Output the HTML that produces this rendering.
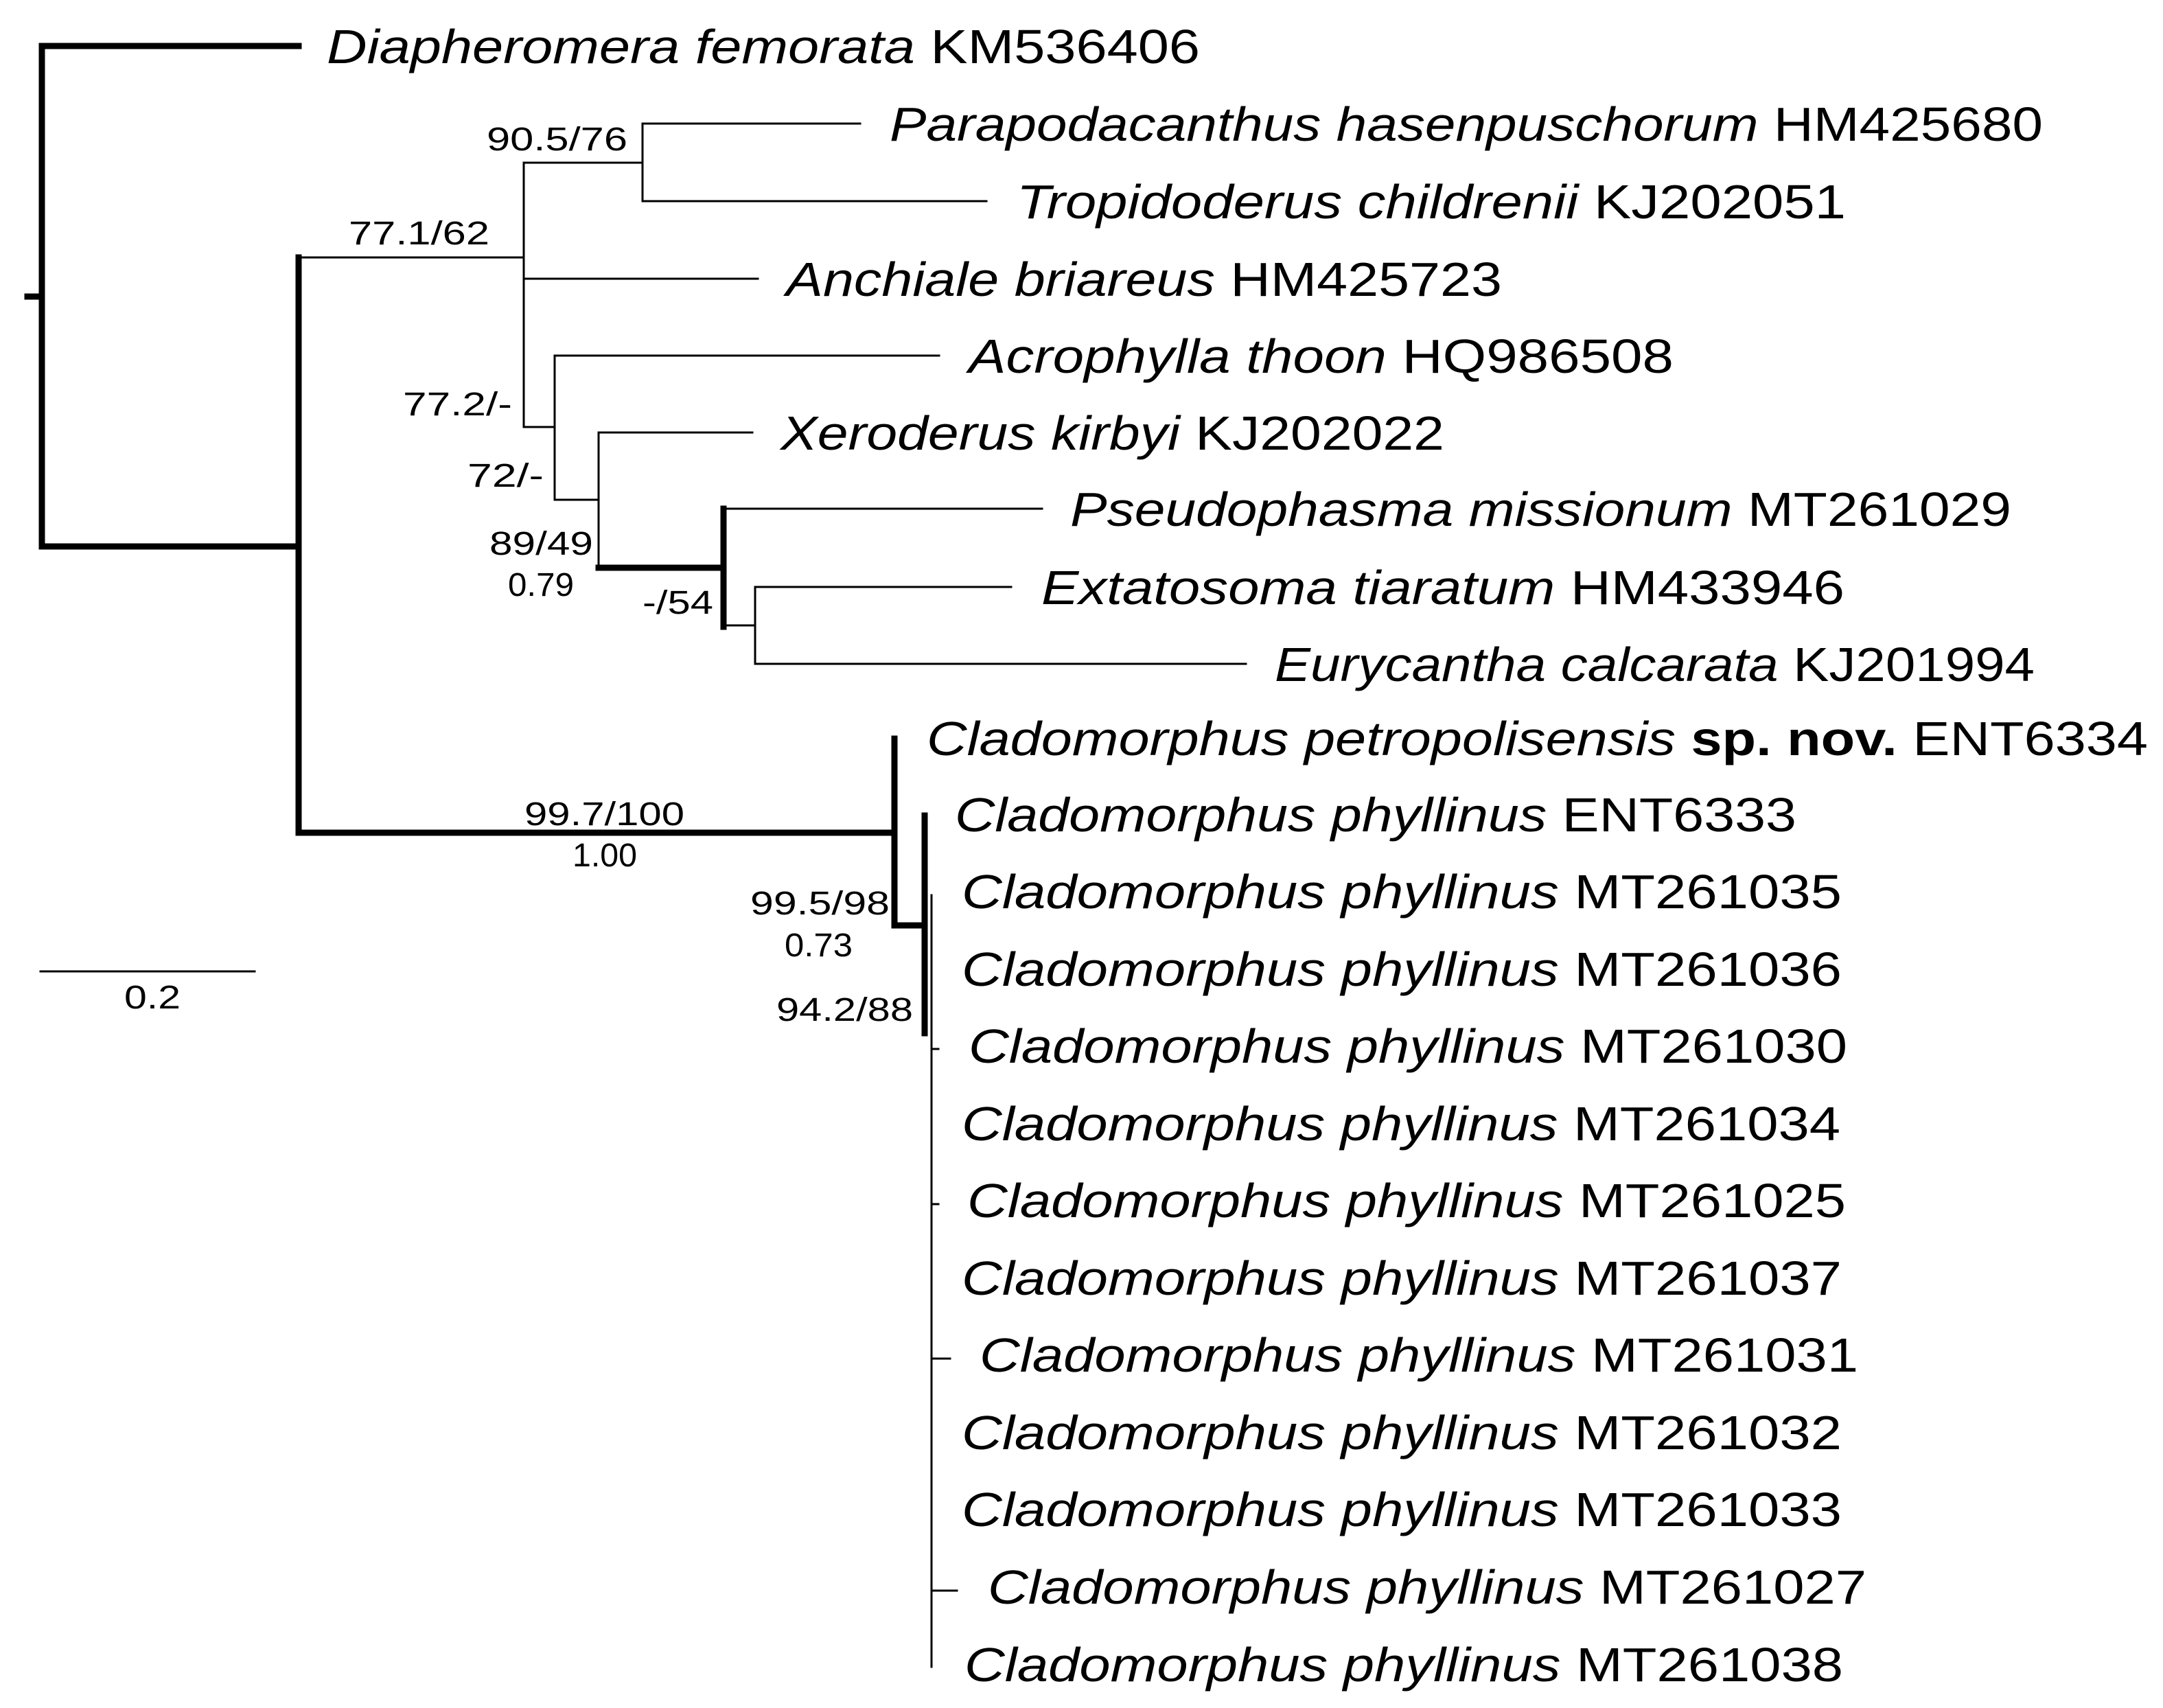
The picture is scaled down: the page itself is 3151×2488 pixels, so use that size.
<!DOCTYPE html>
<html><head><meta charset="utf-8"><style>html,body{margin:0;padding:0;background:#fff}svg{display:block}</style></head>
<body>
<svg width="3151" height="2488" viewBox="0 0 3151 2488" xmlns="http://www.w3.org/2000/svg">
<g stroke="#000" fill="none" stroke-linecap="square">
<!-- thick -->
<g stroke-width="9">
<line x1="61" y1="67" x2="61" y2="796"/>
<line x1="61" y1="67" x2="435" y2="67"/>
<line x1="61" y1="796" x2="435" y2="796"/>
<line x1="435" y1="375" x2="435" y2="1213"/>
<line x1="435" y1="1213" x2="1303" y2="1213"/>
<line x1="1303" y1="1076" x2="1303" y2="1348"/>
<line x1="1303" y1="1348" x2="1347" y2="1348"/>
<line x1="1347" y1="1188" x2="1347" y2="1505"/>
<line x1="872" y1="827" x2="1054" y2="827"/>
<line x1="1054" y1="741" x2="1054" y2="913"/>
<line x1="40" y1="432" x2="61" y2="432"/>
</g>
<g stroke-width="3">
<line x1="435" y1="375" x2="763" y2="375"/>
<line x1="763" y1="237" x2="763" y2="622"/>
<line x1="763" y1="237" x2="936" y2="237"/>
<line x1="936" y1="180" x2="936" y2="293"/>
<line x1="936" y1="180" x2="1253" y2="180"/>
<line x1="936" y1="293" x2="1437" y2="293"/>
<line x1="763" y1="406" x2="1104" y2="406"/>
<line x1="763" y1="622" x2="808" y2="622"/>
<line x1="808" y1="518" x2="808" y2="728"/>
<line x1="808" y1="518" x2="1368" y2="518"/>
<line x1="808" y1="728" x2="872" y2="728"/>
<line x1="872" y1="630" x2="872" y2="827"/>
<line x1="872" y1="630" x2="1096" y2="630"/>
<line x1="1054" y1="741" x2="1518" y2="741"/>
<line x1="1054" y1="911" x2="1100" y2="911"/>
<line x1="1100" y1="855" x2="1100" y2="967"/>
<line x1="1100" y1="855" x2="1473" y2="855"/>
<line x1="1100" y1="967" x2="1815" y2="967"/>
<line x1="1357" y1="1304" x2="1357" y2="2428"/>
<line x1="1357" y1="1528" x2="1367" y2="1528"/>
<line x1="1357" y1="1754" x2="1367" y2="1754"/>
<line x1="1357" y1="1979" x2="1384" y2="1979"/>
<line x1="1357" y1="2317" x2="1394" y2="2317"/>
<line x1="59" y1="1415" x2="371" y2="1415"/>
</g>
</g>
<g font-family="Liberation Sans, sans-serif" font-size="70" fill="#000" lengthAdjust="spacingAndGlyphs">
<text x="476" y="92" textLength="1272" lengthAdjust="spacingAndGlyphs"><tspan font-style="italic">Diapheromera femorata</tspan> KM536406</text>
<text x="1296" y="205" textLength="1680" lengthAdjust="spacingAndGlyphs"><tspan font-style="italic">Parapodacanthus hasenpuschorum</tspan> HM425680</text>
<text x="1481" y="318" textLength="1208" lengthAdjust="spacingAndGlyphs"><tspan font-style="italic">Tropidoderus childrenii</tspan> KJ202051</text>
<text x="1145" y="431" textLength="1043" lengthAdjust="spacingAndGlyphs"><tspan font-style="italic">Anchiale briareus</tspan> HM425723</text>
<text x="1411" y="543" textLength="1027" lengthAdjust="spacingAndGlyphs"><tspan font-style="italic">Acrophylla thoon</tspan> HQ986508</text>
<text x="1137" y="655" textLength="967" lengthAdjust="spacingAndGlyphs"><tspan font-style="italic">Xeroderus kirbyi</tspan> KJ202022</text>
<text x="1559" y="766" textLength="1371" lengthAdjust="spacingAndGlyphs"><tspan font-style="italic">Pseudophasma missionum</tspan> MT261029</text>
<text x="1517" y="880" textLength="1170" lengthAdjust="spacingAndGlyphs"><tspan font-style="italic">Extatosoma tiaratum</tspan> HM433946</text>
<text x="1857" y="992" textLength="1107" lengthAdjust="spacingAndGlyphs"><tspan font-style="italic">Eurycantha calcarata</tspan> KJ201994</text>
<text x="1350" y="1100" textLength="1779" lengthAdjust="spacingAndGlyphs"><tspan font-style="italic">Cladomorphus petropolisensis</tspan> <tspan font-weight="bold">sp. nov.</tspan> ENT6334</text>
<text x="1391" y="1211" textLength="1226" lengthAdjust="spacingAndGlyphs"><tspan font-style="italic">Cladomorphus phyllinus</tspan> ENT6333</text>
<text x="1401" y="1323" textLength="1282" lengthAdjust="spacingAndGlyphs"><tspan font-style="italic">Cladomorphus phyllinus</tspan> MT261035</text>
<text x="1401" y="1436" textLength="1282" lengthAdjust="spacingAndGlyphs"><tspan font-style="italic">Cladomorphus phyllinus</tspan> MT261036</text>
<text x="1411" y="1548" textLength="1280" lengthAdjust="spacingAndGlyphs"><tspan font-style="italic">Cladomorphus phyllinus</tspan> MT261030</text>
<text x="1401" y="1661" textLength="1280" lengthAdjust="spacingAndGlyphs"><tspan font-style="italic">Cladomorphus phyllinus</tspan> MT261034</text>
<text x="1409" y="1773" textLength="1280" lengthAdjust="spacingAndGlyphs"><tspan font-style="italic">Cladomorphus phyllinus</tspan> MT261025</text>
<text x="1401" y="1886" textLength="1282" lengthAdjust="spacingAndGlyphs"><tspan font-style="italic">Cladomorphus phyllinus</tspan> MT261037</text>
<text x="1427" y="1998" textLength="1280" lengthAdjust="spacingAndGlyphs"><tspan font-style="italic">Cladomorphus phyllinus</tspan> MT261031</text>
<text x="1401" y="2111" textLength="1282" lengthAdjust="spacingAndGlyphs"><tspan font-style="italic">Cladomorphus phyllinus</tspan> MT261032</text>
<text x="1401" y="2223" textLength="1282" lengthAdjust="spacingAndGlyphs"><tspan font-style="italic">Cladomorphus phyllinus</tspan> MT261033</text>
<text x="1439" y="2336" textLength="1280" lengthAdjust="spacingAndGlyphs"><tspan font-style="italic">Cladomorphus phyllinus</tspan> MT261027</text>
<text x="1405" y="2449" textLength="1280" lengthAdjust="spacingAndGlyphs"><tspan font-style="italic">Cladomorphus phyllinus</tspan> MT261038</text>
</g>
<g font-family="Liberation Sans, sans-serif" font-size="48" fill="#000">
<text x="709" y="219" textLength="205" lengthAdjust="spacingAndGlyphs">90.5/76</text>
<text x="508" y="356" textLength="205" lengthAdjust="spacingAndGlyphs">77.1/62</text>
<text x="587" y="605" textLength="159" lengthAdjust="spacingAndGlyphs">77.2/-</text>
<text x="681" y="709" textLength="111" lengthAdjust="spacingAndGlyphs">72/-</text>
<text x="713" y="808" textLength="151" lengthAdjust="spacingAndGlyphs">89/49</text>
<text x="740" y="868" textLength="96" lengthAdjust="spacingAndGlyphs">0.79</text>
<text x="936" y="894" textLength="103" lengthAdjust="spacingAndGlyphs">-/54</text>
<text x="764" y="1202" textLength="233" lengthAdjust="spacingAndGlyphs">99.7/100</text>
<text x="834" y="1262" textLength="94" lengthAdjust="spacingAndGlyphs">1.00</text>
<text x="1093" y="1332" textLength="203" lengthAdjust="spacingAndGlyphs">99.5/98</text>
<text x="1143" y="1393" textLength="99" lengthAdjust="spacingAndGlyphs">0.73</text>
<text x="1131" y="1487" textLength="199" lengthAdjust="spacingAndGlyphs">94.2/88</text>
<text x="181" y="1469" textLength="82" lengthAdjust="spacingAndGlyphs">0.2</text>
</g>
</svg>
</body></html>
